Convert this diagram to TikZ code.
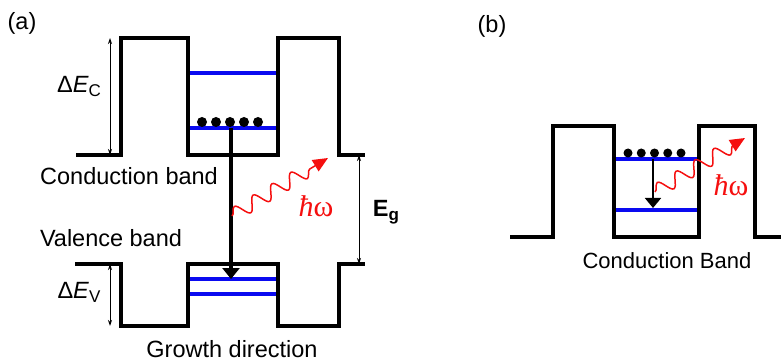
\documentclass[tikz,border=0pt]{standalone}
\usepackage{fontspec}
\setmainfont{Liberation Sans}
\newfontfamily\hwfont{Liberation Serif}
\usetikzlibrary{arrows.meta, decorations.pathmorphing}
\usepackage{xcolor}
\definecolor{qwBlue}{RGB}{10,10,240}
\definecolor{qwRed} {RGB}{245,15,15}
\newcommand{\lowsub}[1]{\raisebox{-4pt}{\fontsize{17}{18}\selectfont #1}}

\tikzset{
  band/.style={line width=3.2pt, line join=miter},
  sublevel/.style={line width=3.2pt, qwBlue},
  gap/.style={{Stealth[length=6pt,width=4pt]}-{Stealth[length=6pt,width=4pt]}, line width=0.9pt},
  photon/.style={qwRed, line width=1.5pt, decorate,
    decoration={snake, amplitude=7pt, segment length=22pt, post length=14pt},
    -{Triangle[length=15pt,width=13pt]}},
  txt/.style={font=\fontsize{23.5}{28}\selectfont, inner sep=0pt, anchor=base},
  hw/.style={text=qwRed, font=\hwfont\fontsize{30}{34}\selectfont, inner sep=0pt, anchor=base},
  electron/.style={circle, fill, inner sep=0pt, minimum size=10pt},
}

\begin{document}
\begin{tikzpicture}[x=1pt, y=-1pt]
  \useasboundingbox (0,0) rectangle (781,363);

  % ---- (a): subbands in the wells ----
  \draw[sublevel] (188,73) -- (278,73);
  \draw[sublevel] (188,128) -- (278,128);
  \draw[sublevel] (188,279) -- (278,279);
  \draw[sublevel] (188,294) -- (278,294);

  % ---- (a): conduction and valence band profiles ----
  \draw[band] (76,155) -- (121,155) -- (121,38) -- (188,38) -- (188,155) --
    (278,155) -- (278,38) -- (339,38) -- (339,155) -- (365,155);
  \draw[band] (75,264) -- (121,264) -- (121,326) -- (188,326) -- (188,264) --
    (278,264) -- (278,326) -- (339,326) -- (339,264) -- (365,264);

  % electrons
  \foreach \i in {0,...,4}
    \node[electron] (eA\i) at (202+14*\i,122) {};

  % ---- (a): offsets and gap ----
  \coordinate (dEcTop) at (110,38);
  \coordinate (dEcBot) at (110,155);
  \coordinate (dEvTop) at (110,264);
  \coordinate (dEvBot) at (110,326);
  \coordinate (EgTop)  at (359,155);
  \coordinate (EgBot)  at (359,264);
  \draw[gap] (dEcTop) -- (dEcBot);
  \draw[gap] (dEvTop) -- (dEvBot);
  \draw[gap] (EgTop) -- (EgBot);

  % ---- (a): transition and photon ----
  \coordinate (transTopA) at (231,128);
  \coordinate (transBotA) at (231,279);
  \draw[line width=3.2pt, -{Triangle[length=11pt,width=17pt]}] (transTopA) -- (transBotA);
  \coordinate (phStartA) at (232,216);
  \coordinate (phEndA)   at (328,158);
  \draw[photon] (phStartA) -- (phEndA);

  % ---- (a): labels ----
  \node[txt] (tagA)   at (22,30)   {(a)};
  \node[txt] (cbText) at (129,185) {Conduction band};
  \node[txt] (vbText) at (111,247) {Valence band};
  \node[txt] (grText) at (232,357) {Growth direction};
  \node[txt] (dEcText) at (79,93)  {Δ\textit{E}\lowsub{C}};
  \node[txt] (dEvText) at (79,298) {Δ\textit{E}\lowsub{V}};
  \node[txt] (EgText)  at (386,217) {\textbf{E\lowsub{\bfseries g}}};
  \node[hw]  (hwA)     at (316,217) {\itshape ħ\upshape ω};

  % ---- (b): intersubband transition ----
  \draw[sublevel] (614,159) -- (699,159);
  \draw[sublevel] (614,210) -- (699,210);
  \draw[band] (510,237) -- (553,237) -- (553,126) -- (614,126) -- (614,237) --
    (699,237) -- (699,126) -- (755,126) -- (755,237) -- (781,237);
  \foreach \i in {0,...,4}
    \node[electron, minimum size=9pt] (eB\i) at (628+13.25*\i,153) {};
  \coordinate (transTopB) at (653,159);
  \coordinate (transBotB) at (653,208);
  \draw[line width=1.8pt, -{Triangle[length=10pt,width=16pt]}] (transTopB) -- (transBotB);
  \coordinate (phStartB) at (655,192);
  \coordinate (phEndB)   at (745,138);
  \draw[photon] (phStartB) -- (phEndB);

  \node[txt] (tagB)   at (492,33)  {(b)};
  \node[txt, font=\fontsize{22}{26}\selectfont] (cbTextB) at (667,269) {Conduction Band};
  \node[hw]  (hwB)    at (731,196) {\itshape ħ\upshape ω};
\end{tikzpicture}
\end{document}
